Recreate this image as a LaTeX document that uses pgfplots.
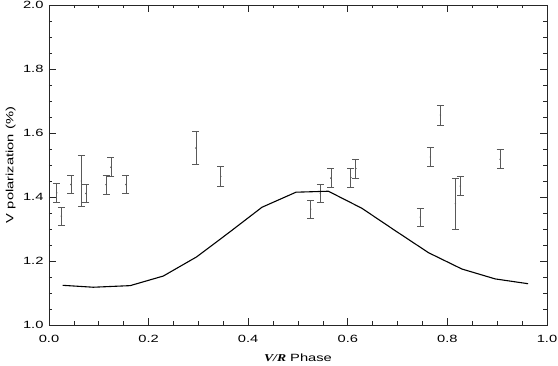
\documentclass[border=0pt]{standalone}
\usepackage{pgfplots}
\pgfplotsset{compat=1.18}
\usepackage{fontspec}
\setmainfont{Liberation Sans}[FakeStretch=1.4]
\newfontfamily\idlserif{Liberation Serif}[FakeStretch=1.3]

% polarization measurements: phase, value, error
\pgfplotstableread{
x       y       e
0.0155  1.413   0.031
0.0247  1.340   0.029
0.044   1.439   0.029
0.065   1.450   0.080
0.074   1.411   0.029
0.1145  1.439   0.030
0.1245  1.493   0.030
0.1546  1.439   0.029
0.295   1.553   0.051
0.345   1.4645  0.030
0.5255  1.362   0.029
0.545   1.411   0.029
0.566   1.459   0.030
0.606   1.461   0.030
0.616   1.489   0.030
0.7456  1.337   0.029
0.7657  1.525   0.030
0.786   1.656   0.031
0.816   1.379   0.079
0.826   1.434   0.030
0.906   1.518   0.030
}\obsdata

\begin{document}
\begin{tikzpicture}
\begin{axis}[
  at={(0,0)}, anchor=south west,
  scale only axis, width=498pt, height=320pt,
  xmin=0, xmax=1, ymin=1, ymax=2,
  xtick={0,0.2,0.4,0.6,0.8,1.0},
  xticklabels={0.0,0.2,0.4,0.6,0.8,1.0},
  ytick={1.0,1.2,1.4,1.6,1.8,2.0},
  yticklabels={1.0,1.2,1.4,1.6,1.8,2.0},
  minor tick num=3,
  tick align=inside,
  major tick length=7pt, minor tick length=3.5pt,
  axis line style={black!85, line width=0.8pt},
  every tick/.style={black!85, line width=0.7pt},
  tick label style={font=\fontsize{10.5}{12}\selectfont},
  xticklabel style={yshift=-7pt},
  yticklabel style={xshift=-2pt},
  label style={font=\fontsize{10.5}{12}\selectfont},
  xlabel={{\idlserif\bfseries\itshape V/R} Phase},
  xlabel style={at={(axis description cs:0.5,0)}, anchor=north, yshift=-25pt},
  ylabel={V polarization (\%)},
  ylabel style={at={(axis description cs:0,0.5)}, anchor=south, yshift=30pt},
]
  \addplot[only marks, mark=*, mark size=0.5pt, black!65,
    error bars/.cd, y dir=both, y explicit,
    error bar style={black!65, line width=0.7pt},
    error mark options={rotate=90, mark size=3.5pt, black!65, line width=0.7pt}]
    table[x=x, y=y, y error=e] {\obsdata};
  \addplot[black, line width=1.1pt] coordinates {
    (0.0275,1.124) (0.089,1.118) (0.163,1.123) (0.2295,1.153)
    (0.2966,1.213) (0.3624,1.290) (0.4277,1.368) (0.496,1.415)
    (0.561,1.418) (0.628,1.365) (0.695,1.295) (0.762,1.226)
    (0.829,1.175) (0.896,1.144) (0.962,1.129)};
\end{axis}
\pgfresetboundingbox
\path[use as bounding box] (-49pt,-41pt) rectangle (509pt,325pt);
\end{tikzpicture}
\end{document}
